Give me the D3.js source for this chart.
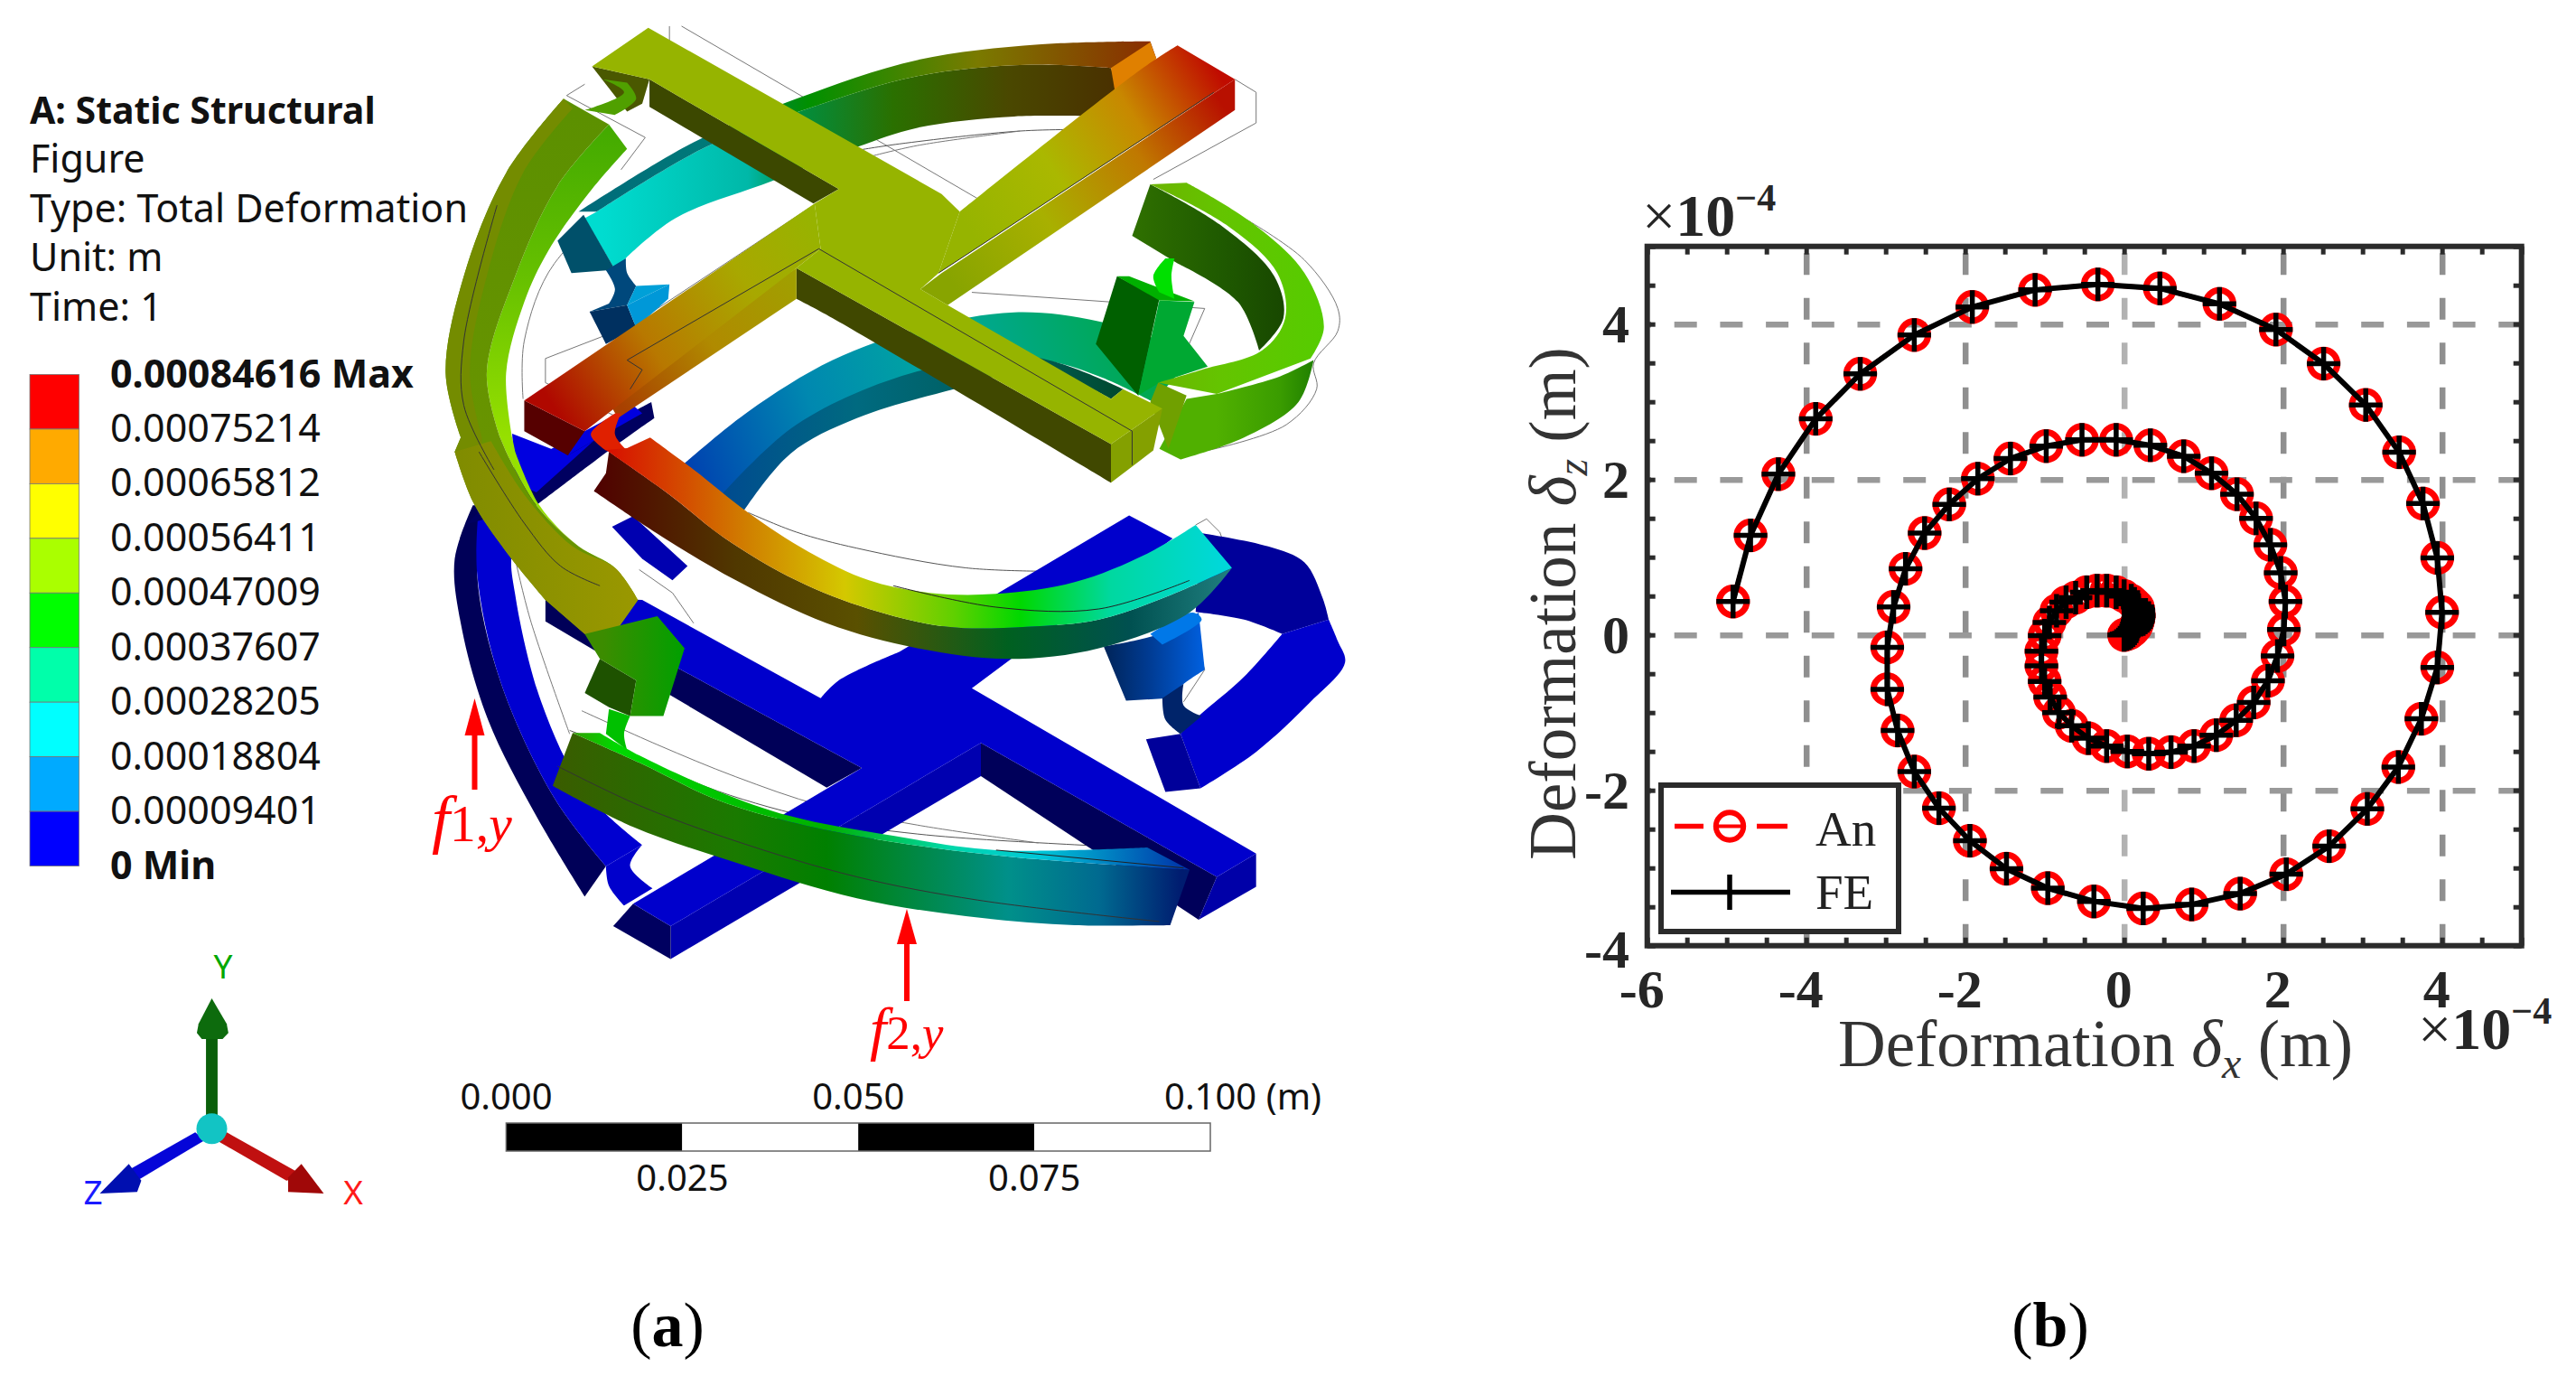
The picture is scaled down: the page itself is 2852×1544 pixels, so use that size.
<!DOCTYPE html>
<html>
<head>
<meta charset="utf-8">
<title>Total deformation and spiral</title>
<script src="https://cdn.jsdelivr.net/npm/d3@7"></script>
<style>
  body { margin: 0; background: #fff; }
  text { white-space: pre; }
</style>
</head>
<body>
<div id="chart"></div>
<script>
// Panel (b) values, x 10^-4 m
var feX = [-4.92,-4.70,-4.35,-3.88,-3.32,-2.64,-1.91,-1.12,-0.33,0.45,1.20,1.91,2.51,3.04,3.46,3.76,3.94,4.00,3.94,3.74,3.45,3.06,2.58,2.04,1.46,0.85,0.24,-0.38,-0.96,-1.48,-1.94,-2.33,-2.64,-2.85,-2.98,-2.98,-2.90,-2.75,-2.51,-2.20,-1.84,-1.43,-0.98,-0.53,-0.10,0.33,0.75,1.10,1.42,1.66,1.84,1.97,2.03,2.01,1.93,1.81,1.63,1.41,1.16,0.88,0.59,0.31,0.04,-0.22,-0.45,-0.66,-0.82,-0.93,-1.00,-1.04,-1.04,-1.00,-0.94,-0.85,-0.73,-0.61,-0.47,-0.34,-0.22,-0.10,0.00,0.09,0.13,0.17,0.18,0.18,0.185,0.18,0.175,0.17,0.16,0.15,0.13,0.11,0.085,0.06,0.03,0.00];
var feZ = [0.43,1.28,2.07,2.78,3.36,3.86,4.22,4.44,4.51,4.46,4.26,3.93,3.49,2.96,2.35,1.69,0.99,0.29,-0.42,-1.08,-1.70,-2.24,-2.72,-3.08,-3.33,-3.47,-3.52,-3.43,-3.26,-3.01,-2.65,-2.23,-1.76,-1.23,-0.70,-0.16,0.36,0.85,1.31,1.68,2.01,2.27,2.43,2.51,2.51,2.44,2.30,2.08,1.81,1.50,1.16,0.80,0.43,0.07,-0.27,-0.59,-0.87,-1.10,-1.29,-1.43,-1.51,-1.53,-1.50,-1.43,-1.33,-1.17,-1.00,-0.80,-0.60,-0.40,-0.21,-0.01,0.16,0.31,0.42,0.48,0.55,0.57,0.57,0.55,0.50,0.44,0.40,0.36,0.32,0.28,0.25,0.22,0.19,0.17,0.14,0.11,0.085,0.06,0.04,0.02,0.01,0.00];
// the analytical curve lies on the FE curve at this resolution
var anX = feX.slice();
var anZ = feZ.slice();

var xTicks = [-6,-4,-2,0,2,4];
var yTicks = [-4,-2,0,2,4];
var xTickLabels = ["-6","-4","-2","0","2","4"];
var yTickLabels = ["-4","-2","0","2","4"];
var xMinor = d3.range(-6,5.01,0.5);
var yMinor = d3.range(-4,5.01,0.5);

// Panel (a) legend
var titleLines = ["A: Static Structural","Figure","Type: Total Deformation","Unit: m","Time: 1"];
var contourLabels = ["0.00084616 Max","0.00075214","0.00065812","0.00056411","0.00047009","0.00037607","0.00028205","0.00018804","0.00009401","0 Min"];
var contourColors = ["#ff0000","#ffaa00","#ffff00","#aaff00","#00ff00","#00ffaa","#00ffff","#00aaff","#0000ff"];
var barTicks = [0,0.025,0.05,0.075,0.1];
var barLabels = ["0.000","0.025","0.050","0.075","0.100 (m)"];

var serif = "'Liberation Serif'";
var sans = "'Noto Sans'";

var svg = d3.select("#chart").append("svg")
  .attr("width", 2852)
  .attr("height", 1544)
  .style("display", "block");
var defs = svg.append("defs");

// ---------- panel (b) ----------
var x = d3.scaleLinear().domain([-6,5]).range([1823.7,2791.7]);
var y = d3.scaleLinear().domain([-4,5]).range([1046.7,272.7]);
var plotW = x(5) - x(-6);
var plotH = y(-4) - y(5);
var plot = svg.append("g");

// grid comes from the axes so the dashes start at the bottom/left edge
var xGrid = plot.append("g")
  .attr("transform", `translate(0,${y(-4)})`)
  .call(d3.axisBottom(x).tickValues([-4,-2,0,2,4]).tickSize(-plotH).tickFormat(""));
xGrid.select(".domain").remove();
xGrid.selectAll("line")
  .attr("stroke", d => d === 0 ? "#b2b2b2" : "#8f8f8f")
  .attr("stroke-width", 6.5)
  .attr("stroke-dasharray", "24 25.5");

var yGrid = plot.append("g")
  .attr("transform", `translate(${x(-6)},0)`)
  .call(d3.axisRight(y).tickValues([-2,0,2,4]).tickSize(plotW).tickFormat(""));
yGrid.select(".domain").remove();
yGrid.selectAll("line")
  .attr("stroke", "#999")
  .attr("stroke-width", 6.5)
  .attr("stroke-dasharray", "25 25.7")
  .attr("stroke-dashoffset", -30);

// inward minor ticks on all four sides
function minorTicks(axis, translate) {
  var g = plot.append("g").attr("transform", translate).call(axis);
  g.select(".domain").remove();
  g.selectAll("text").remove();
  g.selectAll("line").attr("stroke", "#2b2b2b").attr("stroke-width", 5);
}
minorTicks(d3.axisBottom(x).tickValues(xMinor).tickSize(-9), `translate(0,${y(-4)})`);
minorTicks(d3.axisTop(x).tickValues(xMinor).tickSize(-9), `translate(0,${y(5)})`);
minorTicks(d3.axisLeft(y).tickValues(yMinor).tickSize(-9), `translate(${x(-6)},0)`);
minorTicks(d3.axisRight(y).tickValues(yMinor).tickSize(-9), `translate(${x(5)},0)`);

plot.append("rect")
  .attr("x", x(-6)).attr("y", y(5))
  .attr("width", plotW).attr("height", plotH)
  .attr("fill", "none").attr("stroke", "#2b2b2b").attr("stroke-width", 6);

// tick labels
plot.selectAll(".xlab").data(xTicks).enter().append("text")
  .attr("x", d => x(d) - 6)
  .attr("y", 1115)
  .attr("text-anchor", "middle")
  .attr("font-family", serif).attr("font-weight", "bold").attr("font-size", 60)
  .attr("fill", "#262626")
  .text((d, i) => xTickLabels[i]);
plot.selectAll(".ylab").data(yTicks).enter().append("text")
  .attr("x", 1804)
  .attr("y", d => y(d) + (d === -4 ? 24 : 20))
  .attr("text-anchor", "end")
  .attr("font-family", serif).attr("font-weight", "bold").attr("font-size", 60)
  .attr("fill", "#262626")
  .text((d, i) => yTickLabels[i]);

// exponent labels
function exponent(px, py) {
  var t = plot.append("text").attr("x", px).attr("y", py)
    .attr("font-family", serif).attr("font-size", 66).attr("fill", "#262626");
  t.append("tspan").text("\u00d7");
  t.append("tspan").attr("font-weight", "bold").text("10");
  t.append("tspan").attr("dy", -28).attr("font-size", 42).attr("font-weight", "bold").text("\u22124");
}
exponent(1818, 261);
exponent(2677, 1161);

// axis titles
function axisTitle(t, sub) {
  t.attr("font-family", serif).attr("font-size", 73).attr("fill", "#333");
  t.append("tspan").text("Deformation ");
  t.append("tspan").attr("font-style", "italic").text("\u03b4");
  t.append("tspan").attr("font-style", "italic").attr("font-size", 48).attr("dy", 13).text(sub);
  t.append("tspan").attr("dy", -13).text(" (m)");
}
axisTitle(plot.append("text").attr("x", 2320).attr("y", 1180).attr("text-anchor", "middle"), "x");
axisTitle(plot.append("text").attr("text-anchor", "middle")
  .attr("transform", "translate(1744,668) rotate(-90)"), "z");

// curves and markers
var pts = feX.map((d, i) => [d, feZ[i]]);
var anPts = anX.map((d, i) => [d, anZ[i]]);
var curve = d3.line().x(d => x(d[0])).y(d => y(d[1]));

plot.append("path").attr("d", curve(anPts))
  .attr("fill", "none").attr("stroke", "#ff0000").attr("stroke-width", 5).attr("stroke-dasharray", "30 30");
plot.selectAll(".an").data(anPts).enter().append("circle")
  .attr("cx", d => x(d[0])).attr("cy", d => y(d[1])).attr("r", 15.2)
  .attr("fill", "none").attr("stroke", "#ff0000").attr("stroke-width", 7);
plot.append("path").attr("d", curve(pts))
  .attr("fill", "none").attr("stroke", "#000").attr("stroke-width", 6);
var plusPath = "M-18.5,0H18.5M0,-18.5V18.5";
plot.selectAll(".fe").data(pts).enter().append("path")
  .attr("d", plusPath)
  .attr("transform", d => `translate(${x(d[0])},${y(d[1])})`)
  .attr("fill", "none").attr("stroke", "#000").attr("stroke-width", 5.5);

// legend
var leg = plot.append("g");
leg.append("rect").attr("x", 1839).attr("y", 869).attr("width", 263).attr("height", 162)
  .attr("fill", "#fff").attr("stroke", "#2b2b2b").attr("stroke-width", 6);
leg.append("path").attr("d", "M1854,914.5H1886M1945,914.5H1979")
  .attr("stroke", "#ff0000").attr("stroke-width", 5.5);
leg.append("circle").attr("cx", 1915).attr("cy", 914.5).attr("r", 15.2)
  .attr("fill", "none").attr("stroke", "#ff0000").attr("stroke-width", 6);
leg.append("path").attr("d", "M1900,914.5H1930").attr("stroke", "#ff0000").attr("stroke-width", 4);
leg.append("path").attr("d", "M1850,987.5H1982")
  .attr("stroke", "#000").attr("stroke-width", 5.5);
leg.append("path").attr("d", "M1915,968V1007").attr("stroke", "#000").attr("stroke-width", 5.5);
leg.append("text").attr("x", 2010).attr("y", 936).text("An")
  .attr("font-family", serif).attr("font-size", 55).attr("fill", "#222");
leg.append("text").attr("x", 2010).attr("y", 1006).text("FE")
  .attr("font-family", serif).attr("font-size", 55).attr("fill", "#222");

// ---------- panel (a) legend ----------
var info = svg.append("g").attr("font-family", sans).attr("fill", "#111");
info.selectAll(".title").data(titleLines).enter().append("text")
  .attr("x", 33)
  .attr("y", (d, i) => 137 + i * 54.4)
  .attr("font-size", (d, i) => i === 0 ? 41 : 43)
  .attr("font-weight", (d, i) => i === 0 ? "bold" : "normal")
  .text(d => d);

var contourY = d3.scaleLinear().domain([0,9]).range([414.5,958.5]);
info.selectAll(".seg").data(contourColors).enter().append("rect")
  .attr("x", 33).attr("y", (d, i) => contourY(i))
  .attr("width", 54.5).attr("height", contourY(1) - contourY(0))
  .attr("fill", d => d).attr("stroke", "#777").attr("stroke-width", 0.8);
info.selectAll(".val").data(contourLabels).enter().append("text")
  .attr("x", 122)
  .attr("y", (d, i) => contourY(i) + 14)
  .attr("font-size", 43)
  .attr("font-weight", (d, i) => (i === 0 || i === 9) ? "bold" : "normal")
  .text(d => d);

// scale bar
var bar = d3.scaleLinear().domain([0,0.1]).range([560.4,1340]);
var barG = svg.append("g");
barG.selectAll(".bar").data(d3.pairs(barTicks)).enter().append("rect")
  .attr("x", d => bar(d[0])).attr("y", 1243)
  .attr("width", d => bar(d[1]) - bar(d[0])).attr("height", 31)
  .attr("fill", (d, i) => i % 2 ? "#fff" : "#000");
barG.append("rect").attr("x", bar(0)).attr("y", 1243).attr("width", bar(0.1) - bar(0)).attr("height", 31)
  .attr("fill", "none").attr("stroke", "#666").attr("stroke-width", 1.5);
barG.selectAll(".barlab").data(barTicks).enter().append("text")
  .attr("x", d => bar(d) - 51)
  .attr("y", (d, i) => i % 2 ? 1318 : 1228)
  .attr("font-family", sans).attr("font-size", 40).attr("fill", "#111")
  .text((d, i) => barLabels[i]);

// ---------- panel (a) model ----------
// outlines as measured from the upper and lower part of the model, each on its own 1568 grid
var modelX = d3.scaleLinear().domain([0,1568]).range([480,1530]);
var upY = d3.scaleLinear().domain([0,1568]).range([20,580]);
var loY = d3.scaleLinear().domain([0,1568]).range([500,1120]);
var triX = d3.scaleLinear().domain([0,1568]).range([60,1500]);
var triY = d3.scaleLinear().domain([0,1500]).range([1040,1540]);
var up = p => p.map(d => [modelX(d[0]), upY(d[1])]);
var lo = p => p.map(d => [modelX(d[0]), loY(d[1])]);
var tri = p => p.map(d => [triX(d[0]), triY(d[1])]);

var model = svg.append("g");
var smooth = d3.line().curve(d3.curveCatmullRom.alpha(0.5));
var straight = d3.line();
var gradCount = 0;

// a part is a list of runs, each run is smoothed, corners sit between runs
function outline(runs) {
  return runs.map(function(r, i) {
    var s = smooth(r);
    return i ? s.replace("M", "L") : s;
  }).join("") + "Z";
}
function part(fill) {
  var runs = Array.prototype.slice.call(arguments, 1);
  model.append("path").attr("d", outline(runs)).attr("fill", fill);
}
function wire(run, color) {
  model.append("path").attr("d", smooth(run)).attr("fill", "none")
    .attr("stroke", color || "#777").attr("stroke-width", 1);
}
function edge(run, color) {
  model.append("path").attr("d", straight(run)).attr("fill", "none")
    .attr("stroke", color || "#777").attr("stroke-width", 1);
}
function grad(a, b, stops) {
  var id = "g" + (gradCount++);
  var g = defs.append("linearGradient").attr("id", id).attr("gradientUnits", "userSpaceOnUse")
    .attr("x1", a[0]).attr("y1", a[1]).attr("x2", b[0]).attr("y2", b[1]);
  stops.forEach(function(s) { g.append("stop").attr("offset", s[0]).attr("stop-color", s[1]); });
  return "url(#" + id + ")";
}
// gradient running left to right, stops given at model x positions
function gx(stops) {
  var x0 = stops[0][0], x1 = stops[stops.length - 1][0];
  return grad([modelX(x0), 0], [modelX(x1), 0], stops.map(s => [(s[0] - x0) / (x1 - x0), s[1]]));
}

// undeformed wireframe behind everything
edge(up([[390,25],[390,80]]));
edge(up([[410,25],[900,560]]));
edge(up([[250,205],[220,240],[270,290],[350,370],[310,470]]));
edge(up([[1325,190],[1360,230],[1360,325],[1190,500]]));
wire(up([[700,410],[770,390],[970,350],[1090,345]]), "#555");
wire(up([[720,430],[800,395],[970,350]]));
wire(up([[1340,620],[1440,750],[1495,900],[1495,970],[1455,1070],[1460,1150],[1410,1260],[1280,1340]]));
wire(up([[148,1180],[150,1000],[200,760],[320,580],[600,490],[640,540]]));
edge(up([[185,1055],[185,1130],[330,1260]]));
edge(up([[185,1055],[330,950],[620,590]]));
edge(up([[890,850],[1275,900],[1240,1050]]));
wire(lo([[520,170],[600,225],[700,270],[880,325],[1040,335]]), "#555");
wire(lo([[135,300],[160,470],[225,790]]));
wire(lo([[225,780],[330,850],[470,950],[640,1030],[800,1070],[1060,1100],[1180,1108]]), "#555");
wire(lo([[245,725],[370,820],[500,910],[640,990],[800,1045],[1000,1095]]));
edge(lo([[340,330],[395,395],[430,480]]));
edge(lo([[1260,205],[1278,188],[1300,225],[1320,320]]));
edge(lo([[1250,480],[1275,610],[1240,700]]));

// lower blue cross and rings
part("#00009a", lo([[1270,228],[1380,265],[1440,310],[1470,410],[1480,470]]), lo([[1480,470],[1403,510]]), lo([[1403,510],[1340,470],[1260,448]]));
part("#0000cc", lo([[1480,470],[1495,530],[1507,590],[1450,700],[1360,840],[1268,942]]), lo([[1268,942],[1235,790]]), lo([[1235,790],[1265,740],[1340,630],[1403,510]]));
part("#00009a", lo([[1178,805],[1235,790]]), lo([[1235,790],[1268,942]]), lo([[1268,942],[1210,952]]));
part(gx([[1108,"#002458"],[1180,"#003a90"],[1275,"#0060e0"]]), lo([[1108,545],[1200,510],[1265,450]]), lo([[1265,450],[1275,610]]), lo([[1275,610],[1240,650],[1215,690]]), lo([[1215,690],[1145,697]]));
part("#0078e8", lo([[1185,510],[1255,450],[1270,470],[1205,540]]));
part("#00246a", lo([[1205,690],[1240,650]]), lo([[1240,650],[1240,710],[1270,740]]), lo([[1270,740],[1235,790]]), lo([[1235,790],[1210,750],[1205,690]]));

part("#000058", lo([[185,404],[185,475]]), lo([[185,475],[650,940]]), lo([[650,940],[708,885]]));
part("#00005a", lo([[905,815],[905,908]]), lo([[905,908],[1265,1310]]), lo([[1265,1310],[1295,1190]]));
part("#0000a8", lo([[1295,1190],[1360,1125]]), lo([[1360,1125],[1360,1218]]), lo([[1360,1218],[1265,1310]]));
part("#0000b0", lo([[392,1328],[905,815]]), lo([[905,815],[905,908]]), lo([[905,908],[392,1420]]));
part("#000060", lo([[297,1328],[392,1420]]), lo([[392,1420],[392,1328]]), lo([[392,1328],[330,1265]]));
part("#0000cc", lo([[345,415],[640,690]]), lo([[640,690],[670,640],[770,560]]), lo([[770,560],[1150,178]]), lo([[1150,178],[1222,243]]), lo([[1222,243],[890,662]]), lo([[890,662],[1360,1125]]), lo([[1360,1125],[1295,1190]]), lo([[1295,1190],[905,815]]), lo([[905,815],[392,1328]]), lo([[392,1328],[330,1265]]), lo([[330,1265],[708,885]]), lo([[708,885],[185,404]]));
part("#0000b0", lo([[295,210],[330,180]]), lo([[330,180],[420,320]]), lo([[420,320],[395,360]]), lo([[395,360],[345,300]]));
part("#0000cc", lo([[345,1100],[325,1160],[362,1222]]), lo([[362,1222],[315,1270]]), lo([[315,1270],[290,1215],[285,1160]]));

// left blue ring
part("#000058", lo([[65,150],[35,300],[45,480],[90,750],[170,1020],[250,1245]]), lo([[250,1245],[285,1160]]), lo([[285,1160],[200,970],[110,640],[72,340],[85,150]]));
part("#0000d0", lo([[75,150],[72,340],[110,640],[200,970],[285,1160]]), lo([[285,1160],[345,1100]]), lo([[345,1100],[250,950],[178,700],[135,400],[130,280],[170,130]]));
part("#000060", up([[55,1568],[130,1440],[360,1190]]), up([[360,1190],[365,1240]]), up([[365,1240],[290,1340],[170,1510]]));
part("#0000e0", up([[130,1288],[222,1355]]), up([[222,1355],[265,1310]]), up([[265,1310],[170,1470]]), up([[170,1470],[135,1440]]));
part("#0000e0", up([[222,1355],[345,1225]]), up([[345,1225],[330,1200]]), up([[330,1200],[190,1340]]));

// middle ring behind the upper cross
part(grad([modelX(420),upY(1420)], [modelX(1150),upY(950)], [[0,"#0040b0"],[0.3,"#0088b0"],[0.6,"#00a8a0"],[1,"#00a850"]]),
  up([[415,1380],[520,1220],[660,1060],[810,960],[960,912],[1100,940],[1260,1040]]),
  up([[1260,1040],[1190,1190]]),
  up([[1190,1190],[1100,1110],[1000,1060],[800,1100],[650,1220],[520,1450]]),
  up([[520,1450],[510,1535]]));
part(gx([[470,"#004a90"],[700,"#006a80"],[1000,"#005a50"],[1130,"#004a30"]]),
  up([[470,1490],[600,1260],[800,1095],[990,1050],[1140,1150]]),
  up([[1140,1150],[1120,1180]]),
  up([[1120,1180],[1000,1090],[860,1150],[700,1240],[590,1350],[510,1535]]));

// upper back ring
part(gx([[280,"#00dcd0"],[520,"#00b8a8"],[600,"#008f40"],[760,"#2a7000"],[950,"#4a4800"],[1130,"#4a3000"]]),
  up([[270,600],[450,400],[620,280],[800,180],[980,145],[1120,155]]),
  up([[1120,155],[1140,270]]),
  up([[1140,270],[1100,305]]),
  up([[1100,305],[960,305],[800,340],[700,400],[560,505],[400,620],[320,740]]),
  up([[320,740],[300,780]]),
  up([[300,780],[250,620]]));
part(gx([[240,"#006a7a"],[460,"#007a78"],[620,"#009000"],[900,"#7a7a00"],[1190,"#8a2c00"]]),
  up([[240,600],[430,385],[600,250],[800,130],[1000,82],[1185,72]]),
  up([[1185,72],[1195,125]]),
  up([[1195,125],[1120,155]]),
  up([[1120,155],[980,145],[800,180],[620,280],[450,400],[270,600]]));
part("#00506a", up([[205,690],[248,610]]), up([[248,610],[300,780]]), up([[300,780],[228,790]]));
part("#00487c", up([[285,782],[300,840],[290,885]]), up([[290,885],[258,910]]), up([[258,910],[320,890]]), up([[320,890],[335,830]]), up([[335,830],[320,790],[318,745]]));
part("#003060", up([[258,910],[320,890]]), up([[320,890],[335,960]]), up([[335,960],[285,1010]]));
part("#0098d8", up([[320,890],[390,825]]), up([[390,825],[388,870]]), up([[388,870],[335,960]]));
part("#00a0d8", up([[320,890],[335,830]]), up([[335,830],[390,825]]));
part("#e08000", up([[1120,155],[1185,75]]), up([[1185,75],[1195,125]]), up([[1195,125],[1155,240]]), up([[1155,240],[1130,265]]));

// right green ring
part(gx([[1155,"#2f7000"],[1300,"#1f5a00"],[1405,"#184800"]]),
  up([[1185,515],[1300,640],[1390,800],[1405,930],[1365,1030]]),
  up([[1365,1030],[1330,880],[1230,760]]),
  up([[1230,760],[1155,675]]));
part("#006000", up([[1130,800],[1200,870]]), up([[1200,870],[1165,1170]]), up([[1165,1170],[1095,1010]]));
part("#00a832", up([[1200,875],[1258,880]]), up([[1258,880],[1240,985]]), up([[1240,985],[1280,1080]]), up([[1280,1080],[1200,1130]]), up([[1200,1130],[1165,1170]]));
part("#00b000", up([[1130,800],[1150,800]]), up([[1150,800],[1258,878]]), up([[1258,878],[1200,875]]));
part("#00e000", up([[1210,745],[1190,800],[1200,850]]), up([[1200,850],[1225,870]]), up([[1225,870],[1220,800],[1225,745]]));
part(gx([[1295,"#50b000"],[1400,"#3a9c00"],[1455,"#208000"]]),
  up([[1295,1165],[1400,1110],[1455,1060]]),
  up([[1455,1060],[1430,1190],[1340,1300],[1235,1368]]),
  up([[1235,1368],[1200,1335]]),
  up([[1200,1335],[1245,1180]]));
part(gx([[1185,"#6cb400"],[1300,"#64c400"],[1470,"#56cc00"]]),
  up([[1185,515],[1245,510]]),
  up([[1245,510],[1350,630],[1440,790],[1472,960],[1450,1055]]),
  up([[1450,1055],[1295,1165]]),
  up([[1295,1165],[1198,1130]]),
  up([[1198,1130],[1270,1090],[1370,1030],[1408,930],[1395,790],[1310,640],[1185,515]]));
part("#70a000", up([[1198,1130],[1245,1170]]), up([[1245,1170],[1215,1335]]), up([[1215,1335],[1185,1190]]));

// upper cross
part("#4a5800", up([[262,150],[357,190]]), up([[357,190],[345,265]]), up([[345,265],[320,290]]));
part("#50a000", up([[280,190],[315,230],[250,285]]), up([[250,285],[300,300]]), up([[300,300],[335,250],[320,200]]));
part("#3c4800", up([[357,190],[670,530]]), up([[670,530],[628,575]]), up([[628,575],[357,275]]));
part("#404800", up([[600,775],[600,870]]), up([[600,870],[660,930],[1120,1440]]), up([[1120,1440],[1120,1320]]));
part("#84a000", up([[1120,1320],[1205,1210]]), up([[1205,1210],[1190,1340]]), up([[1190,1340],[1120,1440]]));

var neStops = [[0,"#88a400"],[0.35,"#a8b000"],[0.7,"#c07800"],[1,"#b81000"]];
part(grad([modelX(850),upY(800)], [modelX(1290),upY(230)], neStops),
  up([[1325,190],[1325,285]]), up([[1325,285],[850,890]]), up([[850,890],[805,840]]), up([[805,840],[840,790]]));
var swStops = [[0,"#a0a000"],[0.5,"#b08a00"],[1,"#a84000"]];
part(grad([modelX(600),upY(800)], [modelX(310),upY(1200)], swStops),
  up([[280,1160],[600,775]]), up([[600,775],[600,870]]), up([[600,870],[305,1240]]));
part("#560000", up([[150,1185],[150,1280]]), up([[150,1280],[222,1355]]), up([[222,1355],[250,1280]]));
part("#96b400",
  up([[355,30],[840,545]]), up([[840,545],[870,600]]), up([[870,600],[835,790]]), up([[835,790],[805,840]]),
  up([[805,840],[850,890]]), up([[850,890],[1120,1180]]), up([[1120,1180],[1140,1150]]), up([[1140,1150],[1205,1210]]),
  up([[1205,1210],[1120,1320]]), up([[1120,1320],[600,775]]), up([[600,775],[640,715]]), up([[640,715],[630,575]]),
  up([[630,575],[670,530]]), up([[670,530],[357,190]]), up([[357,190],[262,150]]));
part(grad([modelX(880),upY(640)], [modelX(1290),upY(150)], [[0,"#96b400"],[0.35,"#aab800"],[0.68,"#c88800"],[1,"#c00c00"]]),
  up([[870,600],[1165,165],[1230,85]]), up([[1230,85],[1325,190]]), up([[1325,190],[835,790]]));
part(grad([modelX(640),upY(620)], [modelX(190),upY(1180)], [[0,"#96b400"],[0.3,"#a8a800"],[0.65,"#b87800"],[1,"#b00800"]]),
  up([[630,575],[150,1185]]), up([[150,1185],[250,1280]]), up([[250,1280],[600,775]]), up([[600,775],[640,715]]));

edge(up([[637,715],[320,1060],[345,1090],[325,1150]]), "#333");
edge(up([[637,715],[1155,1280],[1155,1385]]), "#333");
edge(up([[835,790],[1290,230]]), "#333");

// left olive ring, three bands from the inside out
part(grad([0,upY(300)], [0,upY(1300)], [[0,"#40a800"],[0.5,"#66c000"],[1,"#96e000"]]),
  up([[290,330],[205,520],[135,800],[88,1100],[110,1300]]),
  lo([[120,0],[170,150],[240,265],[300,325]]),
  lo([[300,325],[338,415]]),
  lo([[338,415],[300,325],[240,265],[175,150],[135,0]]),
  up([[130,1300],[120,1100],[150,880],[190,720],[262,530],[320,405]]));
part(grad([0,upY(300)], [0,upY(1300)], [[0,"#5c9000"],[1,"#689400"]]),
  up([[215,250],[120,480],[50,800],[20,1100],[45,1300]]),
  lo([[35,0],[65,140],[120,280],[185,415]]),
  lo([[185,415],[250,510]]),
  lo([[250,510],[290,530]]),
  lo([[290,530],[338,415]]),
  lo([[338,415],[300,325],[240,265],[170,150],[120,0]]),
  up([[110,1300],[88,1100],[135,800],[205,520],[290,330]]));
part("#748c00",
  up([[215,250],[120,480],[50,800],[20,1100],[45,1300]]),
  lo([[35,0],[60,100]]),
  lo([[60,100],[80,100]]),
  up([[80,1300],[60,1100],[88,800],[148,480],[230,280]]));
part(gx([[40,"#808c00"],[340,"#9a9800"]]),
  lo([[35,0],[65,140],[120,280],[185,415]]),
  lo([[185,415],[250,510]]),
  lo([[250,510],[290,530]]),
  lo([[290,530],[338,415]]),
  lo([[338,415],[300,325],[230,265],[150,120],[95,-30]]));
wire(up([[105,580],[50,1000],[50,1200],[100,1400]]), "#333");
wire(lo([[75,0],[150,200],[210,320],[275,375]]), "#333");

// hinge under the olive ring
part("#1e5200", lo([[275,580],[335,640]]), lo([[335,640],[325,740]]), lo([[325,740],[290,715]]), lo([[290,715],[250,675]]));
part(gx([[280,"#3c8c00"],[415,"#00a000"]]), lo([[250,510],[370,460]]), lo([[370,460],[415,550]]), lo([[415,550],[380,740]]), lo([[380,740],[325,740]]), lo([[325,740],[335,640]]), lo([[335,640],[275,580]]));
part("#00c000", lo([[290,720],[285,790]]), lo([[285,790],[320,835]]), lo([[320,835],[315,790],[325,740]]));

// front rings
part(gx([[200,"#3a5c00"],[500,"#1a7a00"],[650,"#008000"],[950,"#00908a"],[1100,"#006a90"],[1235,"#001c70"]]),
  lo([[230,787],[340,870],[470,975],[600,1040],[770,1095],[960,1135],[1250,1170]]),
  lo([[1250,1170],[1218,1325]]),
  lo([[1218,1325],[1060,1325],[880,1300],[700,1250],[500,1150],[330,1050],[197,935]]));
part(gx([[230,"#30a000"],[300,"#00d800"],[650,"#00b000"],[850,"#00d8a8"],[1000,"#00c8d8"],[1250,"#0030a8"]]),
  lo([[230,787],[275,787]]),
  lo([[275,787],[340,850],[470,950],[590,1020],[760,1075],[930,1115],[1180,1108]]),
  lo([[1180,1108],[1250,1170]]),
  lo([[1250,1170],[960,1135],[770,1095],[600,1040],[470,975],[340,870],[230,787]]));
wire(lo([[205,880],[340,990],[500,1090],[700,1190],[900,1255],[1200,1315]]), "#333");
wire(lo([[930,1115],[1240,1165]]), "#222");

part("#e02000", up([[300,1225],[260,1290],[285,1340]]), up([[285,1340],[320,1340]]), up([[320,1340],[300,1290],[310,1225]]));
part(gx([[265,"#500000"],[500,"#503800"],[700,"#5a5000"],[950,"#006020"],[1150,"#005050"],[1320,"#208080"]]),
  lo([[285,60],[265,110]]),
  lo([[265,110],[380,240],[500,360],[650,480],[800,550],[950,580],[1100,550],[1250,450],[1320,325]]),
  lo([[1320,325],[1220,400],[1100,470],[980,490],[850,490],[720,440],[600,360],[480,240],[390,120],[290,0]]));
part(gx([[290,"#d81000"],[520,"#d08000"],[680,"#d4c800"],[860,"#60d000"],[970,"#00d800"],[1120,"#00d8a0"],[1300,"#00d8d8"]]),
  lo([[358,-40],[430,50],[520,170],[620,280],[720,360],[820,395],[930,398],[1060,365],[1180,285],[1260,205]]),
  lo([[1260,205],[1320,325]]),
  lo([[1320,325],[1220,400],[1100,470],[980,490],[850,490],[720,440],[600,360],[480,240],[390,120],[285,-5]]),
  lo([[285,-5],[320,-10]]));
wire(lo([[760,375],[930,435],[1100,440],[1250,360]]), "#222");

// force arrows
var arrows = [
  { x: 525.5, top: 773, head: 814, bottom: 874 },
  { x: 1004, top: 1006, head: 1045, bottom: 1108 }
];
var arrowG = svg.append("g").attr("fill", "#ff0000");
arrowG.selectAll(".shaft").data(arrows).enter().append("rect")
  .attr("x", d => d.x - 3).attr("y", d => d.head - 2).attr("width", 6).attr("height", d => d.bottom - d.head + 2);
arrowG.selectAll(".head").data(arrows).enter().append("path")
  .attr("d", d => `M${d.x},${d.top}L${d.x + 11},${d.head}H${d.x - 11}Z`);
function forceLabel(px, py, digit, size) {
  var t = arrowG.append("text").attr("x", px).attr("y", py).attr("font-family", serif).attr("font-size", size);
  t.append("tspan").attr("font-style", "italic").text("f");
  t.append("tspan").attr("font-size", size * 0.8).text(digit + ",");
  t.append("tspan").attr("font-size", size * 0.8).attr("font-style", "italic").text("y");
}
forceLabel(478, 931, "1", 72);
forceLabel(963, 1161, "2", 66);

// triad
var triad = svg.append("g");
function triPart(fill, run) {
  triad.append("path").attr("d", d3.line()(tri(run)) + "Z").attr("fill", fill);
}
var greenShaft = [[183,330],[197,330],[197,590],[183,590]];
var blueShaft = [[170,640],[182,665],[100,800],[80,780]];
var redShaft = [[208,640],[195,665],[280,800],[302,785]];
triPart("#0a5f0a", greenShaft);
triPart("#0d6b0d", [[190,195],[208,280],[210,310],[203,330],[178,330],[172,310],[174,280]]);
triPart("#0505d8", blueShaft);
triPart("#000fb0", [[90,745],[55,843],[100,838],[105,800]]);
triPart("#c01010", redShaft);
triPart("#a00808", [[298,745],[325,843],[282,838],[282,790]]);
triad.append("ellipse")
  .attr("cx", triX(190)).attr("cy", triY(628)).attr("rx", 17).attr("ry", 17).attr("fill", "#12c4c4");
var triLabels = [["Y", 247, 1083, "#00a800"], ["Z", 103, 1333, "#1a1aff"], ["X", 391, 1333, "#ff1a1a"]];
triad.selectAll("text").data(triLabels).enter().append("text")
  .attr("x", d => d[1]).attr("y", d => d[2]).attr("fill", d => d[3])
  .attr("font-family", sans).attr("font-size", 37).attr("text-anchor", "middle")
  .text(d => d[0]);

// panel captions
function caption(px, letter) {
  var t = svg.append("text").attr("x", px).attr("y", 1490).attr("text-anchor", "middle")
    .attr("font-family", serif).attr("font-size", 70).attr("fill", "#000");
  t.append("tspan").text("(");
  t.append("tspan").attr("font-weight", "bold").text(letter);
  t.append("tspan").text(")");
}
caption(739, "a");
caption(2270, "b");
</script>
</body>
</html>
